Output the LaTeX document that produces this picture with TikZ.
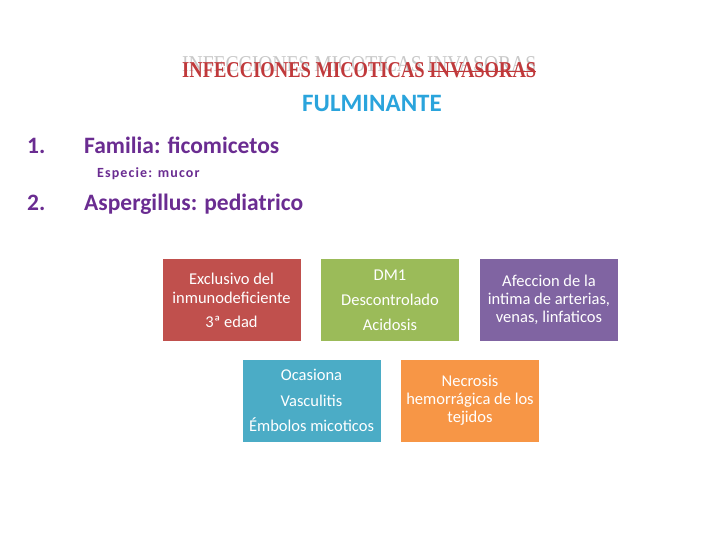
\documentclass[tikz,border=0pt]{standalone}
\usepackage{fontspec}
\usepackage{graphicx}
\setmainfont{Carlito}
\newfontfamily\titlefont{Liberation Serif}
\definecolor{ghostgray}{HTML}{C8C8C8}
\definecolor{titlered}{HTML}{C0393B}
\definecolor{fulblue}{HTML}{2AA4DC}
\definecolor{listpurple}{HTML}{6A2C91}
\definecolor{boxred}{HTML}{C0504D}
\definecolor{boxgreen}{HTML}{9BBB59}
\definecolor{boxpurple}{HTML}{8064A2}
\definecolor{boxblue}{HTML}{4BACC6}
\definecolor{boxorange}{HTML}{F79646}
\tikzset{
  infobox/.style={rectangle, draw=none, text=white, align=center, inner sep=0pt,
    minimum width=138pt, minimum height=82pt},
  listtext/.style={text=listpurple, inner sep=0pt, anchor=base west, font=\fontsize{23.5}{28}\selectfont\bfseries},
}
\begin{document}
\begin{tikzpicture}[x=1pt,y=-1pt]
\useasboundingbox (0,0) rectangle (720,540);
% title
\node[anchor=west, inner sep=0pt, text=ghostgray] (ghost) at (182,64.5)
  {\resizebox{354pt}{15pt}{\titlefont INFECCIONES MICOTICAS INVASORAS}};
\node[anchor=west, inner sep=0pt, text=titlered] (title) at (182,70.5)
  {\resizebox{354pt}{15pt}{\titlefont\bfseries INFECCIONES MICOTICAS INVASORAS}};
\draw[titlered, line width=1.2pt] ([xshift=246pt,yshift=-0.8pt]title.west) -- ([yshift=-0.8pt]title.east);
\node[anchor=base, inner sep=0pt, text=fulblue, font=\fontsize{25}{30}\selectfont\bfseries] (ful) at (372,112) {FULMINANTE};
% list
\node[listtext] (n1) at (27,154) {1.};
\node[listtext] (l1) at (84,154) {Familia: ficomicetos};
\node[text=listpurple, inner sep=0pt, anchor=base west, font=\fontsize{14}{17}\selectfont\bfseries\addfontfeature{LetterSpace=8}] (sp) at (97,178) {Especie: mucor};
\node[listtext] (n2) at (27,211) {2.};
\node[listtext] (l2) at (84,211) {Aspergillus: pediatrico};
% boxes
\node[infobox, fill=boxred, font=\fontsize{16.5}{19}\selectfont] (red) at (231.5,300)
  {Exclusivo del\\inmunodeficiente\\[5pt]3ª edad};
\node[infobox, fill=boxgreen, font=\fontsize{16.5}{25}\selectfont] (green) at (390,300)
  {DM1\\Descontrolado\\Acidosis};
\node[infobox, fill=boxpurple, font=\fontsize{16.5}{18}\selectfont] (purple) at (549,300)
  {Afeccion de la\\intima de arterias,\\venas, linfaticos};
\node[infobox, fill=boxblue, font=\fontsize{16.5}{25.5}\selectfont] (blue) at (311.5,400.5)
  {Ocasiona\\Vasculitis\\Émbolos micoticos};
\node[infobox, fill=boxorange, font=\fontsize{16.5}{18}\selectfont] (orange) at (470,400.5)
  {Necrosis\\hemorrágica de los\\tejidos};
\end{tikzpicture}
\end{document}
